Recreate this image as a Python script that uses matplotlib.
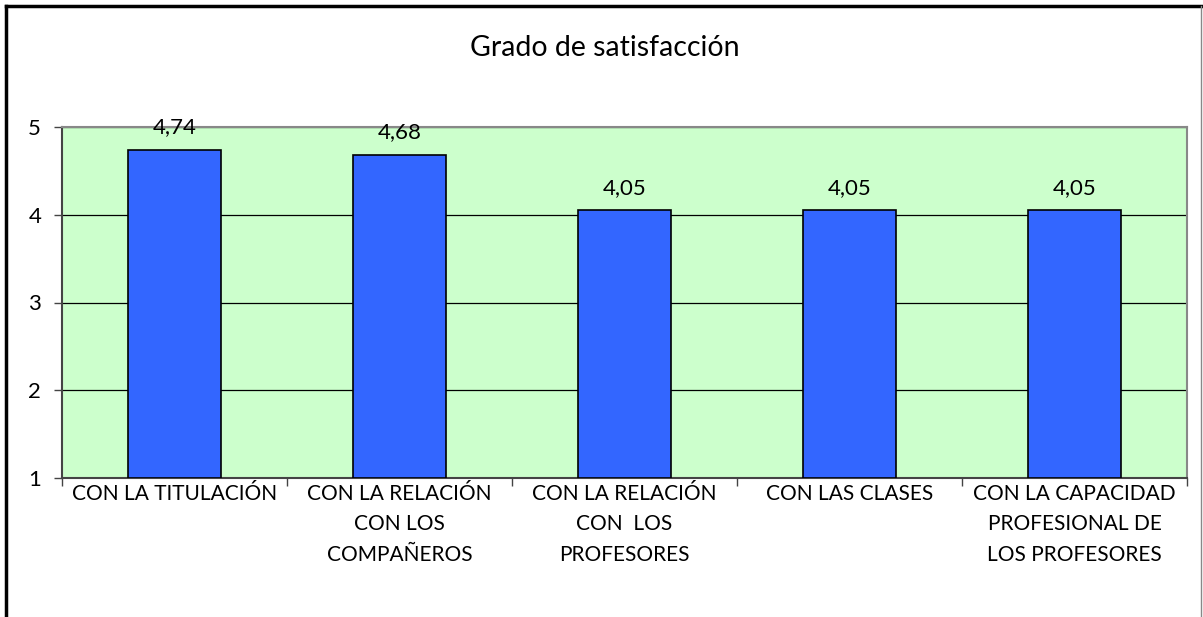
import numpy as np
import matplotlib
matplotlib.use('Agg')
import matplotlib.pyplot as plt
from matplotlib.lines import Line2D

plt.rcParams['font.family'] = ['Lato', 'DejaVu Sans']

categorias = ['CON LA TITULACIÓN',
              'CON LA RELACIÓN\nCON LOS\nCOMPAÑEROS',
              'CON LA RELACIÓN\nCON  LOS\nPROFESORES',
              'CON LAS CLASES',
              'CON LA CAPACIDAD\nPROFESIONAL DE\nLOS PROFESORES']
valores = [4.74, 4.68, 4.05, 4.05, 4.05]
yticks = [1, 2, 3, 4, 5]

fig = plt.figure(figsize=(12.03, 6.17), dpi=100)
ax = fig.add_axes([62/1203, 1 - 478/617, (1187 - 62)/1203, (478 - 127)/617])
ax.set_facecolor('#CCFFCC')

x = np.arange(len(valores))
barras = ax.bar(x, np.array(valores) - 1, bottom=1, width=0.41,
                color='#3366FF', edgecolor='black', linewidth=1.2, zorder=3)
etiquetas = [f'{v:.2f}'.replace('.', ',') for v in valores]
ax.bar_label(barras, labels=etiquetas, padding=9, fontsize=16)

ax.set_xlim(-0.5, len(valores) - 0.5)
ax.set_ylim(1, 5)
ax.set_yticks(yticks)
ax.tick_params(axis='y', labelsize=16, length=6, width=1, color='#444444', pad=9)
ax.yaxis.grid(True, color='black', linewidth=0.9, zorder=0)
ax.set_axisbelow(True)

ax.set_xticks(np.arange(len(valores) + 1) - 0.5, minor=False)
ax.set_xticklabels([])
ax.set_xticks(x, minor=True)
ax.set_xticklabels(categorias, minor=True, fontsize=15, linespacing=1.68, va='top')
ax.tick_params(axis='x', which='major', length=6, width=1, color='#444444')
ax.tick_params(axis='x', which='minor', length=0, pad=4)

for s in ['top', 'right']:
    ax.spines[s].set_color('#888888')
    ax.spines[s].set_linewidth(1.5)
for s in ['left', 'bottom']:
    ax.spines[s].set_color('#444444')
    ax.spines[s].set_linewidth(1.5)

fig.text(605/1203, 1 - 48/617, 'Grado de satisfacción', ha='center', va='center', fontsize=20.5)

# marco del gráfico
fig.add_artist(Line2D([6/1203, 6/1203], [0, 1 - 6/617], color='black', linewidth=2.5))
fig.add_artist(Line2D([6/1203, 1201/1203], [1 - 6/617, 1 - 6/617], color='black', linewidth=2.5))
fig.add_artist(Line2D([1201/1203, 1201/1203], [0, 1 - 6/617], color='#888888', linewidth=1))

fig.savefig('out.png', dpi=100)
